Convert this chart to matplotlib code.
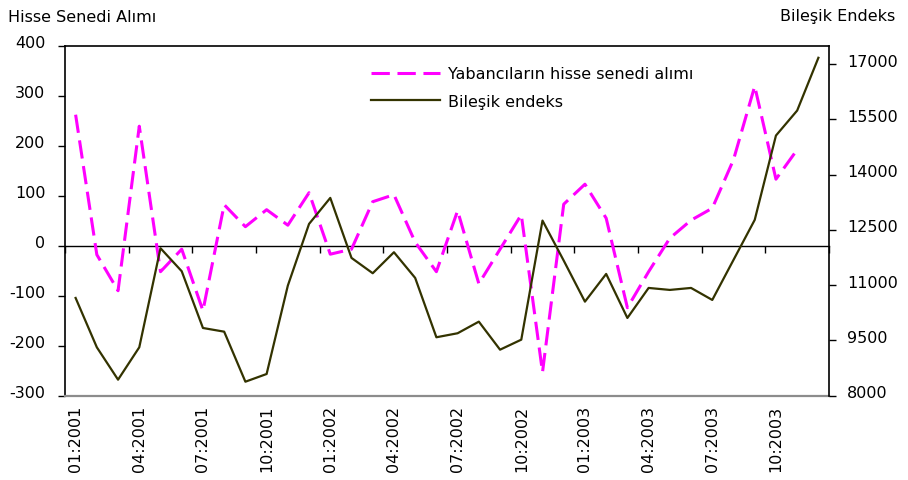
import matplotlib
matplotlib.use("Agg")
import matplotlib.pyplot as plt
import matplotlib.transforms as mtransforms
import numpy as np

# Monthly data, January 2001 - December 2003
months = [f"{m:02d}:{y}" for y in (2001, 2002, 2003) for m in range(1, 13)]
tick_labels = ["01:2001", "04:2001", "07:2001", "10:2001",
               "01:2002", "04:2002", "07:2002", "10:2002",
               "01:2003", "04:2003", "07:2003", "10:2003"]

# Foreign investors' net stock purchases (million $), left axis
foreign_purchases = [262, -18, -90, 239, -52, -7, -130, 82, 38, 72, 41, 106,
                     -17, -7, 88, 102, 7, -52, 70, -76, -7, 62, -253, 83,
                     123, 55, -124, -52, 15, 51, 75, 172, 319, 133, 192]

# ISE composite index, right axis
composite_index = [10653, 9314, 8435, 9314, 12003, 11378, 9838, 9738, 8380, 8589,
                   10988, 12663, 13369, 11740, 11324, 11894, 11197, 9586, 9695,
                   10010, 9249, 9521, 12753, 11667, 10553, 11305, 10110, 10925,
                   10871, 10925, 10599, 11686, 12772, 15061, 15740, 17172]

series_labels = ["Yabancıların hisse senedi alımı", "Bileşik endeks"]
left_title = "Hisse Senedi Alımı"
right_title = "Bileşik Endeks"

plt.rcParams["font.family"] = ["DejaVu Sans"]
plt.rcParams["axes.unicode_minus"] = False
FS = 11.5

W, H = 908, 481
fig = plt.figure(figsize=(W / 100, H / 100), dpi=100)
left, right, top, bottom = 65, 829, 46.7, 396.7
ax = fig.add_axes([left / W, 1 - bottom / H, (right - left) / W, (bottom - top) / H])
ax2 = ax.twinx()

x_all = np.arange(len(months))
x_fp = np.arange(len(foreign_purchases))

l1, = ax.plot(x_fp, foreign_purchases, color="#FF00FF", lw=2.2,
              ls=(0, (6, 2.5)), label=series_labels[0], zorder=3)
l2, = ax2.plot(x_all, composite_index, color="#333300", lw=1.6,
               label=series_labels[1], zorder=3)

# Left axis
ax.set_xlim(-0.5, len(months) - 0.5)
ax.set_ylim(-300, 400)
ax.set_yticks(np.arange(-300, 401, 100))
ax.tick_params(axis="y", length=5, width=1, direction="out", pad=9,
               labelsize=FS, colors="black")

# Right axis
ax2.set_ylim(8000, 17500)
ax2.set_yticks(np.arange(8000, 17001, 1500))
ax2.tick_params(axis="y", length=5, width=1, direction="out", pad=8,
                labelsize=FS, colors="black")

# Category axis crosses at zero; tick marks between category groups
ax.spines["bottom"].set_position(("data", 0))
ax.spines["bottom"].set_linewidth(1)
ax.set_xticks(np.arange(-0.5, len(months) - 0.4, 3))
ax.tick_params(axis="x", length=5, width=1, direction="out", labelbottom=False)

for s in ("left", "top"):
    ax.spines[s].set_linewidth(1.2)
    ax.spines[s].set_color("black")
ax.spines["right"].set_visible(False)
for s in ("left", "top", "bottom"):
    ax2.spines[s].set_visible(False)
ax2.spines["right"].set_linewidth(1.2)

# Grey bottom border of the plot area
ax.plot([0, 1], [0, 0], transform=ax.transAxes, color="#8c8c8c", lw=1.6,
        clip_on=False, zorder=5)

# Lift y tick labels slightly above their ticks
lift = mtransforms.ScaledTranslation(0, 4.5 / 100, fig.dpi_scale_trans)
for lab in ax.get_yticklabels() + ax2.get_yticklabels():
    lab.set_transform(lab.get_transform() + lift)

# Rotated month labels below the plot area
trans = mtransforms.blended_transform_factory(ax.transData, ax.transAxes)
offset = mtransforms.ScaledTranslation(0, -9 / 100, fig.dpi_scale_trans)
for lab in tick_labels:
    i = months.index(lab)
    ax.text(i, 0, lab, transform=trans + offset, rotation=90,
            ha="center", va="top", fontsize=FS)

# Axis titles
fig.text(8 / W, 1 - 17 / H, left_title, ha="left", va="center", fontsize=FS)
fig.text(895 / W, 1 - 17 / H, right_title, ha="right", va="center", fontsize=FS)

# Legend
leg = ax2.legend(handles=[l1, l2], loc="upper left",
                 bbox_to_anchor=(363 / W, 1 - 59.5 / H),
                 bbox_transform=fig.transFigure, frameon=False, borderpad=0,
                 handlelength=4.3, handletextpad=0.55, labelspacing=0.77,
                 fontsize=FS)

fig.savefig("out.png", dpi=100)
